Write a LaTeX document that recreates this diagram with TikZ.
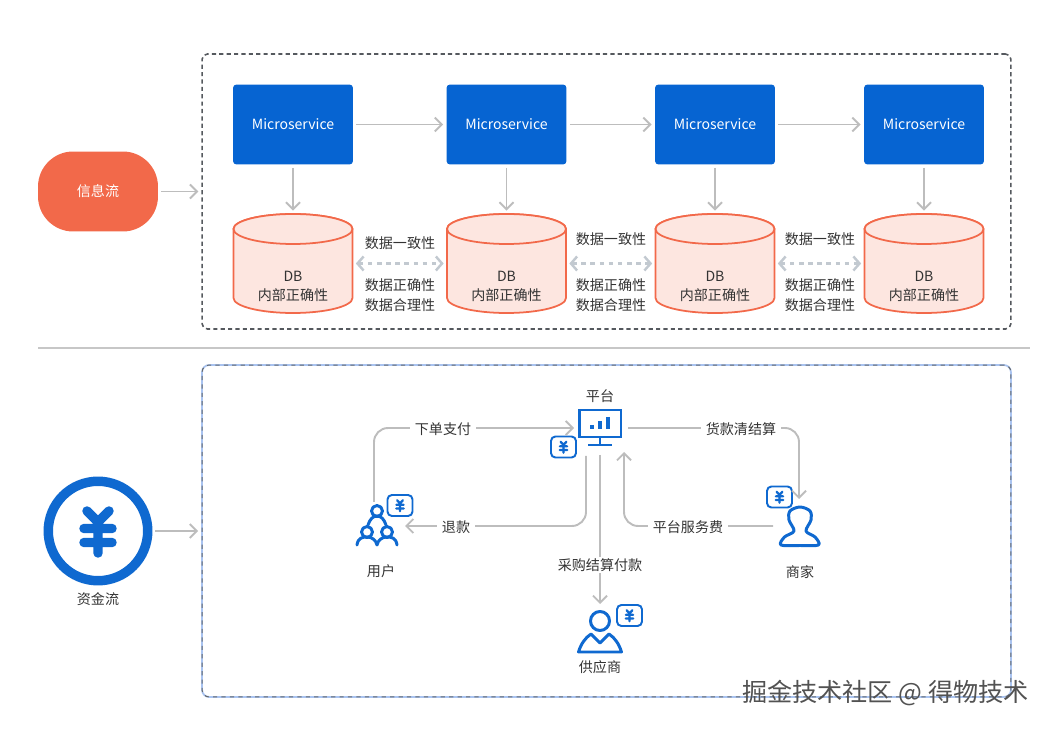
\documentclass[tikz,border=0pt]{standalone}
\usepackage{fontspec}
\setmainfont{Noto Sans CJK SC}
\usetikzlibrary{arrows.meta}
\definecolor{boxblue}{HTML}{0664D2}
\definecolor{iconblue}{HTML}{0F69D0}
\definecolor{redflow}{HTML}{F2694A}
\definecolor{dbfill}{HTML}{FDE6E0}
\definecolor{lineGray}{HTML}{BDBDBD}
\definecolor{gapGray}{HTML}{C2C9D0}
\definecolor{frameGray}{HTML}{55595E}
\definecolor{frameBlue}{HTML}{A9C3F0}
\definecolor{labelGray}{HTML}{333333}
\begin{document}
\begin{tikzpicture}[x=0.02cm, y=-0.02cm,
  every node/.style={font=\fontsize{8}{10.8}\selectfont, text=labelGray, inner sep=0pt},
  flow/.style={draw=lineGray, line width=1.1pt, shorten <=1.7pt, shorten >=1.7pt, -{Straight Barb[length=4pt, width=8pt]}},
  elbow/.style={flow, rounded corners=8pt},
  gaplink/.style={draw=gapGray, line width=1.4pt, dash pattern=on 2.6pt off 2.6pt, shorten <=1.7pt, shorten >=1.7pt, {Straight Barb[length=3.5pt, width=8pt]}-{Straight Barb[length=3.5pt, width=8pt]}},
  service/.style={fill=boxblue, rounded corners=2pt, minimum width=2.4cm, minimum height=1.6cm, text=white},
  database/.style={minimum width=2.38cm, minimum height=1.98cm},
  canline/.style={draw=redflow, line width=1pt, fill=dbfill, x radius=1.19cm, y radius=0.3cm},
  onpath/.style={fill=white, inner xsep=3pt, inner ysep=1pt},
  badge/.style={draw=iconblue, fill=white, line width=1.1pt, rounded corners=2.5pt, minimum width=0.5cm, minimum height=0.42cm},
  usericon/.style={draw=iconblue, line width=1.7pt, line cap=round, line join=round},
  yen/.pic={
    \draw [iconblue, line cap=round, line join=round] (-11,-20) -- (0,-9) -- (11,-20) (0,-9) -- (0,22)
      (-14,-2.5) -- (14,-2.5) (-14,11.5) -- (14,11.5);
  }]
\useasboundingbox (0,0) rectangle (1049,729);

\node (infoframe) at (606.5,191.5) [draw=frameGray, line width=0.9pt, dash pattern=on 2.4pt off 1.8pt, rounded corners=3pt, minimum width=16.18cm, minimum height=5.5cm] {};
\node (moneyframe) at (606.5,531) [draw=frameBlue, line width=1pt, rounded corners=4pt, minimum width=16.18cm, minimum height=6.64cm, postaction={draw=frameGray!90, line width=0.6pt, dash pattern=on 2.4pt off 2.4pt}] {};

\node (infoflow) at (98,191.5) [fill=redflow, rounded corners=20pt, minimum width=2.4cm, minimum height=1.6cm, text=white] {信息流};
\draw [flow] (infoflow) -- (infoframe.west |- infoflow);

\foreach \i/\x in {1/293,2/506.5,3/715,4/924} {
  \node (svc\i) at (\x,124.5) [service] {Microservice};
  \node (db\i) at (\x,263.5) [database] {};
  \draw [canline] (\x-59.5,229) -- (\x-59.5,298) arc [start angle=180, end angle=360] -- (\x+59.5,229) arc [start angle=0, end angle=180] -- cycle;
  \draw [canline] (\x,229) ellipse [];
  \node (dbtext\i) at (\x,286.5) [align=center] {DB\\内部正确性};
  \draw [flow] (svc\i) -- (db\i);
}
\foreach \i/\j/\x/\y in {1/2/400/243,2/3/611/239,3/4/820/239} {
  \draw [flow] (svc\i) -- (svc\j);
  \draw [gaplink] (db\i) -- (db\j);
  \node (same\i) at (\x,\y) {数据一致性};
  \node (right\i) at (\x,285) {数据正确性};
  \node (fair\i) at (\x,305) {数据合理性};
}

\coordinate (lineleft) at (38,348);
\coordinate (lineright) at (1030,348);
\draw [lineGray!85, line width=1.1pt] (lineleft) -- (lineright);

\node (moneyflow) at (98,531) [circle, draw=iconblue, line width=5.4pt, minimum size=1.99cm] {};
\pic [line width=5.4pt] at (98,531) {yen};
\node (moneytext) at (98,599) {资金流};
\draw [flow] (moneyflow) -- (moneyframe.west |- moneyflow);

\node (platform) at (600,423.5) [draw=iconblue, line width=1.7pt, minimum width=0.84cm, minimum height=0.54cm] {};
\coordinate (platformfoot) at (600,438);
\coordinate (platformbase) at (600,445);
\draw [iconblue, line width=1.7pt] (platformfoot) -- (platformbase) (588,445) -- (612,445);
\draw [iconblue, line width=2.2pt] (592,425) -- (592,429) (600,421) -- (600,429) (608,417) -- (608,429);
\node (platformtext) at (600,396) {平台};

\node (user) at (377,527) [minimum width=0.84cm, minimum height=0.84cm] {};
\draw [usericon] (377,511) circle [radius=5.5] (367,532) circle [radius=5.5] (387,532) circle [radius=5.5];
\draw [usericon] (357,545) .. controls (358,538) and (362,537) .. (367,537) .. controls (372,537) and (376,540) .. (377,545) .. controls (378,540) and (382,537) .. (387,537) .. controls (392,537) and (396,538) .. (397,545);
\draw [usericon] (368,525) .. controls (370,519) and (373,516) .. (377,516) .. controls (381,516) and (384,519) .. (386,525);
\node (usertext) at (381,571) {用户};

\node (merchant) at (800,526) [minimum width=0.8cm, minimum height=0.8cm] {};
\draw [usericon] plot [smooth cycle, tension=0.55] coordinates {(800,507) (810,511) (811,520) (806,531) (815,537) (818.5,545) (800,545.5) (781,545) (784.5,537) (794,531) (789,520) (790,511)};
\node (merchanttext) at (800,572) {商家};

\node (supplier) at (600,636) [minimum width=0.88cm, minimum height=0.8cm] {};
\draw [usericon] (600,621) circle [radius=9.5];
\draw [usericon] (578.5,652) -- (621.5,652) .. controls (619,644) and (615,638) .. (609,634) -- (600,643) -- (591,634) .. controls (585,638) and (581,644) .. (578.5,652) -- cycle;
\node (suppliertext) at (600,667) {供应商};

\node (platformbadge) at (563.5,447) [badge] {};
\pic [scale=0.26, line width=1.3pt] at (563.5,447) {yen};
\node (userbadge) at (400,505.5) [badge] {};
\pic [scale=0.26, line width=1.3pt] at (400,505.5) {yen};
\node (merchantbadge) at (779.5,497) [badge] {};
\pic [scale=0.26, line width=1.3pt] at (779.5,497) {yen};
\node (supplierbadge) at (629.5,615.5) [badge] {};
\pic [scale=0.26, line width=1.3pt] at (629.5,615.5) {yen};

\coordinate (payout) at (374,502);
\coordinate (payin) at (574,428);
\coordinate (refundout) at (586,456);
\coordinate (refundin) at (405,526);
\coordinate (settleout) at (628,428);
\coordinate (settlein) at (799,499);
\coordinate (feeout) at (773,526);
\coordinate (feein) at (624,452);
\coordinate (buyout) at (600,455);
\coordinate (buyin) at (600,604);
\draw [elbow, shorten <=0pt, shorten >=0pt] (payout) |- (payin);
\draw [elbow, shorten <=0pt, shorten >=0pt] (refundout) |- (refundin);
\draw [elbow, shorten <=0pt, shorten >=0pt] (settleout) -| (settlein);
\draw [elbow, shorten <=0pt, shorten >=0pt] (feeout) -| (feein);
\draw [flow, shorten <=0pt, shorten >=0pt] (buyout) -- (buyin);
\node (paytext) at (443,429) [onpath] {下单支付};
\node (refundtext) at (456,527) [onpath] {退款};
\node (settletext) at (741,429) [onpath] {货款清结算};
\node (feetext) at (688,527) [onpath] {平台服务费};
\node (buytext) at (600,565) [onpath] {采购结算付款};

\node (mark) at (885.5,693) [font=\fontsize{14.3}{15}\selectfont, text=black!68] {掘金技术社区 @ 得物技术};
\end{tikzpicture}
\end{document}
